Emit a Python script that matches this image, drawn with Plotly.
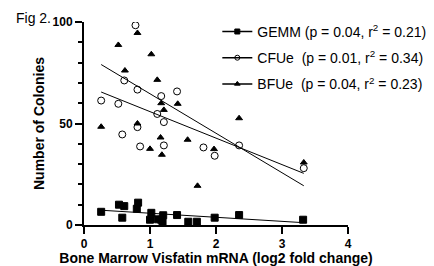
import numpy as np
import plotly.graph_objects as go

# Data
gemm_x = [0.26, 0.53, 0.61, 0.82, 0.80, 0.58, 1.02, 1.00, 1.12, 1.20, 1.17, 1.19, 1.41, 1.58, 1.71, 1.98, 2.35, 3.32]
gemm_y = [6.5, 10.0, 9.3, 11.0, 8.0, 3.6, 6.0, 2.6, 2.8, 4.8, 2.6, 1.3, 4.9, 1.6, 1.6, 3.6, 4.9, 2.6]

cfue_x = [0.78, 0.61, 0.81, 1.17, 1.41, 0.26, 0.52, 1.11, 1.21, 0.81, 0.58, 0.85, 1.21, 1.81, 1.98, 2.35, 3.33]
cfue_y = [98.4, 71.2, 66.7, 63.5, 65.8, 61.3, 59.7, 54.7, 50.7, 48.2, 44.6, 38.7, 39.2, 38.2, 34.1, 39.2, 28.0]

bfue_x = [0.81, 0.52, 1.02, 0.62, 1.11, 1.42, 1.17, 1.21, 0.26, 0.81, 1.16, 1.57, 1.00, 1.18, 1.72, 2.35, 1.97, 3.33]
bfue_y = [94.6, 88.7, 84.1, 76.1, 71.5, 59.7, 60.0, 56.7, 48.4, 50.0, 43.1, 42.0, 37.5, 34.6, 19.3, 52.6, 37.4, 30.8]

# Linear regression lines as drawn in the reference (slope, intercept)
fit_slopes = [-2.0, -13.05, -19.45]
fit_intercepts = [7.8, 68.9, 84.1]

legend_names = [
    "GEMM (p = 0.04, r<sup>2</sup> = 0.21)",
    "CFUe  (p = 0.01, r<sup>2</sup> = 0.34)",
    "BFUe  (p = 0.04, r<sup>2</sup> = 0.23)",
]

x_ticks = [0, 1, 2, 3, 4]
y_ticks = [0, 50, 100]

series = [
    (gemm_x, gemm_y, "square", 7, legend_names[0]),
    (cfue_x, cfue_y, "circle-open", 7, legend_names[1]),
    (bfue_x, bfue_y, "triangle-up", 6, legend_names[2]),
]

fig = go.Figure()
for i, (xs, ys, sym, size, name) in enumerate(series):
    xa = np.array(xs)
    lx = np.array([xa.min(), xa.max()])
    fig.add_trace(go.Scatter(x=xs, y=ys, mode="markers", showlegend=False,
                             marker=dict(symbol=sym, size=size, color="black",
                                         line=dict(width=1, color="black"))))
    fig.add_trace(go.Scatter(x=lx, y=fit_slopes[i] * lx + fit_intercepts[i],
                             mode="lines", showlegend=False,
                             line=dict(color="black", width=1)))
    fig.add_trace(go.Scatter(x=[None], y=[None], mode="lines+markers", name=name,
                             legendgroup=f"g{i}",
                             line=dict(color="black", width=1.5),
                             marker=dict(symbol=sym, size=5, color="black",
                                         line=dict(width=1, color="black"))))

# page body has an 8px default margin, so the figure is 8px smaller than the window
fig.update_layout(
    width=426, height=258,
    margin=dict(l=75.7, r=86.3, t=13.7, b=41, autoexpand=False),
    paper_bgcolor="white", plot_bgcolor="white",
    font=dict(family="Liberation Sans, Arial, sans-serif", color="black"),
    showlegend=True,
    legend=dict(x=0.505, y=1.03, xanchor="left", yanchor="top",
                font=dict(size=14), itemwidth=30, tracegroupgap=5,
                bgcolor="rgba(0,0,0,0)"),
    xaxis=dict(range=[0, 4], tickvals=x_ticks, showgrid=False, zeroline=False,
               showline=True, linecolor="black", linewidth=2,
               ticks="outside", ticklen=7, tickwidth=2, tickcolor="black",
               tickfont=dict(size=12, family="Liberation Sans, Arial", weight="bold"),
               title=dict(text="<b>Bone Marrow Visfatin mRNA (log2 fold change)</b>",
                          font=dict(size=14), standoff=3)),
    yaxis=dict(range=[0, 100], tickvals=y_ticks, showgrid=False, zeroline=False,
               showline=True, linecolor="black", linewidth=2,
               ticks="outside", ticklen=7, tickwidth=2, tickcolor="black",
               tickfont=dict(size=12, family="Liberation Sans, Arial", weight="bold"),
               minor=dict(dtick=10, ticks="outside", ticklen=4, tickwidth=1.5,
                          tickcolor="black", showgrid=False),
               title=dict(text="<b>Number of Colonies</b>", font=dict(size=14),
                          standoff=5)),
    annotations=[dict(text="Fig 2.", xref="paper", yref="paper", x=-0.265, y=1.018,
                      xanchor="left", yanchor="middle", showarrow=False,
                      font=dict(size=14))],
)

fig.write_html("out.html")
